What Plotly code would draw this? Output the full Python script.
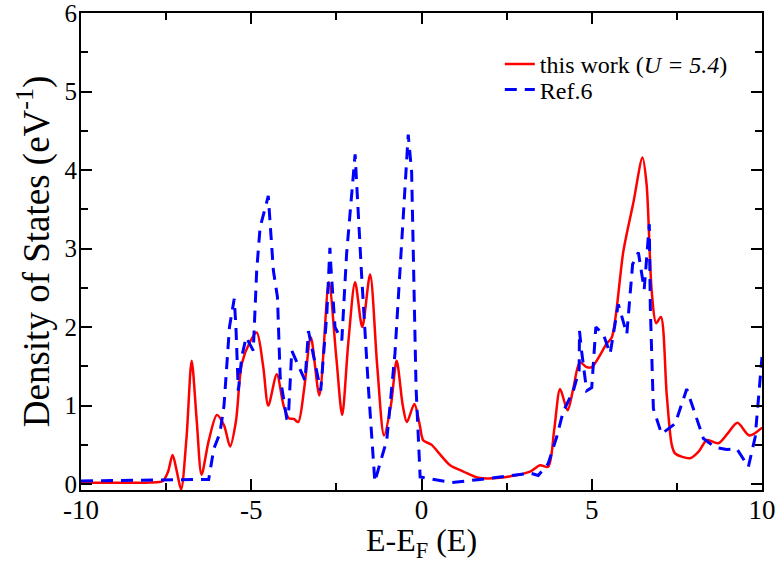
import plotly.graph_objects as go

# "this work (U = 5.4)" - red solid
red_E = [-10, -8, -7.6, -7.45, -7.31, -7.18, -7.06, -6.9, -6.75, -6.6, -6.46, -6.25, -6.01, -5.8,
         -5.62, -5.45, -5.28, -5.05, -4.84, -4.65, -4.50, -4.25, -4.05, -3.9, -3.75, -3.62, -3.45,
         -3.25, -3.0, -2.72, -2.5, -2.33, -2.15, -1.95, -1.74, -1.51, -1.3, -1.10, -0.9, -0.73,
         -0.55, -0.43, -0.21, -0.05, 0.05, 0.30, 0.5, 0.84, 1.23, 1.67, 2.31, 3.19, 3.48, 3.72,
         3.9, 4.07, 4.29, 4.45, 4.65, 4.85, 5.0, 5.44, 5.59, 5.93, 6.22, 6.49, 6.61, 6.76, 6.89,
         7.03, 7.20, 7.35, 7.45, 7.89, 8.15, 8.38, 8.72, 9.0, 9.28, 9.63, 10]
red_D = [0.02, 0.02, 0.04, 0.15, 0.37, 0.15, -0.07, 0.6, 1.57, 0.8, 0.12, 0.55, 0.88, 0.75,
         0.48, 0.8, 1.53, 1.8, 1.93, 1.5, 1.0, 1.40, 1.0, 0.84, 0.83, 0.79, 1.2,
         1.87, 1.13, 2.57, 1.6, 0.88, 1.8, 2.57, 2.0, 2.67, 1.5, 0.62, 1.0, 1.57,
         1.0, 0.79, 1.02, 0.75, 0.56, 0.5, 0.4, 0.24, 0.16, 0.08, 0.08, 0.16, 0.24, 0.22,
         0.7, 1.21, 0.94, 1.2, 1.55, 1.49, 1.49, 1.79, 1.87, 2.97, 3.58, 4.16, 3.82, 2.46, 2.05,
         2.13, 1.15, 0.5, 0.39, 0.33, 0.42, 0.56, 0.52, 0.65, 0.78, 0.62, 0.72]

# "Ref.6" - blue dashed
blue_E = [-10, -6.25, -6.1, -5.92, -5.8, -5.67, -5.64, -5.5, -5.45, -5.38, -5.28, -5.15, -4.94,
          -4.84, -4.74, -4.50, -4.35, -4.23, -4.15, -3.96, -3.91, -3.81, -3.67, -3.42, -3.32,
          -3.13, -2.96, -2.78, -2.69, -2.66, -2.54, -2.34, -2.20, -1.95, -1.85, -1.76, -1.56,
          -1.37, -1.22, -1.02, -0.78, -0.63, -0.48, -0.39, -0.29, -0.24, -0.16, -0.04, 0.89,
          1.72, 3.19, 3.43, 3.72, 3.97, 4.16, 4.46, 4.63, 4.64, 4.70, 4.85, 5.0, 5.12, 5.34,
          5.54, 5.78, 6.03, 6.20, 6.37, 6.54, 6.69, 6.72, 6.81, 7.05, 7.45, 7.79, 8.28, 8.62,
          8.96, 9.26, 9.60, 9.80, 10.0]
blue_D = [0.04, 0.06, 0.45, 0.65, 1.0, 1.83, 2.0, 2.36, 2.0, 1.19, 1.62, 1.87, 1.70,
          2.72, 3.27, 3.67, 2.72, 2.38, 1.36, 0.84, 0.85, 1.70, 1.57, 1.32, 1.95,
          1.53, 1.19, 2.17, 3.01, 2.76, 2.0, 1.83, 2.93, 4.20, 3.35, 2.67, 1.23,
          0.03, 0.26, 0.56, 1.66, 2.72, 3.77, 4.45, 3.98, 2.93, 1.23, 0.09, 0.02,
          0.06, 0.14, 0.11, 0.26, 0.60, 0.92, 1.19, 1.45, 1.95, 1.70, 1.19, 1.23, 2.0, 1.91,
          1.66, 2.29, 1.91, 2.80, 2.95, 2.48, 3.31, 2.25, 0.96, 0.64, 0.77, 1.21, 0.58, 0.47,
          0.44, 0.45, 0.22, 0.60, 1.62]

x_ticks = [-10, -5, 0, 5, 10]
y_ticks = [0, 1, 2, 3, 4, 5, 6]

FONT = "Liberation Serif"

fig = go.Figure()
fig.add_trace(go.Scatter(
    x=red_E, y=red_D, mode="lines", name="this work (<i>U = 5.4</i>)",
    line=dict(color="#ff0000", width=2.5, shape="spline", smoothing=0.8),
    legend="legend"))
fig.add_trace(go.Scatter(
    x=blue_E, y=blue_D, mode="lines", name="Ref.6",
    line=dict(color="#0000ff", width=3, dash="12px,8px"),
    legend="legend2"))

axis_common = dict(
    showline=True, linecolor="black", linewidth=2, mirror="ticks",
    ticks="inside", ticklen=11, tickwidth=1.5, tickcolor="black",
    showgrid=False, zeroline=False, automargin=False,
    ticklabeloverflow="allow",
)

fig.update_xaxes(
    range=[-10, 10], tickvals=x_ticks, ticktext=[str(v) for v in x_ticks],
    ticklabelstandoff=-5,
    tickfont=dict(family=FONT, size=27, color="black"),
    minor=dict(dtick=2.5, tick0=0, ticks="inside", ticklen=7, tickwidth=1.5, tickcolor="black", showgrid=False),
    title=dict(text="E-E<sub>F</sub> (E)", font=dict(family=FONT, size=32, color="black"), standoff=4),
    **axis_common)
fig.update_yaxes(
    range=[-0.075, 6], tickvals=y_ticks, ticktext=[str(v) for v in y_ticks],
    ticklabelstandoff=-3,
    tickfont=dict(family=FONT, size=25, color="black"),
    minor=dict(dtick=0.5, tick0=0, ticks="inside", ticklen=7, tickwidth=1.5, tickcolor="black", showgrid=False),
    title=dict(text="Density of States (eV<sup>-1</sup>)", font=dict(family=FONT, size=37, color="black"), standoff=4),
    **axis_common)

leg_common = dict(xanchor="left", yanchor="middle",
                  font=dict(family=FONT, size=24, color="black"),
                  bgcolor="rgba(0,0,0,0)", borderwidth=0)

fig.update_layout(
    width=778, height=563,
    margin=dict(l=81, r=16, t=13, b=73, autoexpand=False),
    paper_bgcolor="white", plot_bgcolor="white",
    showlegend=True,
    legend=dict(x=0.615, y=0.892, **leg_common),
    legend2=dict(x=0.615, y=0.839, **leg_common),
)

fig.write_html("out.html")
